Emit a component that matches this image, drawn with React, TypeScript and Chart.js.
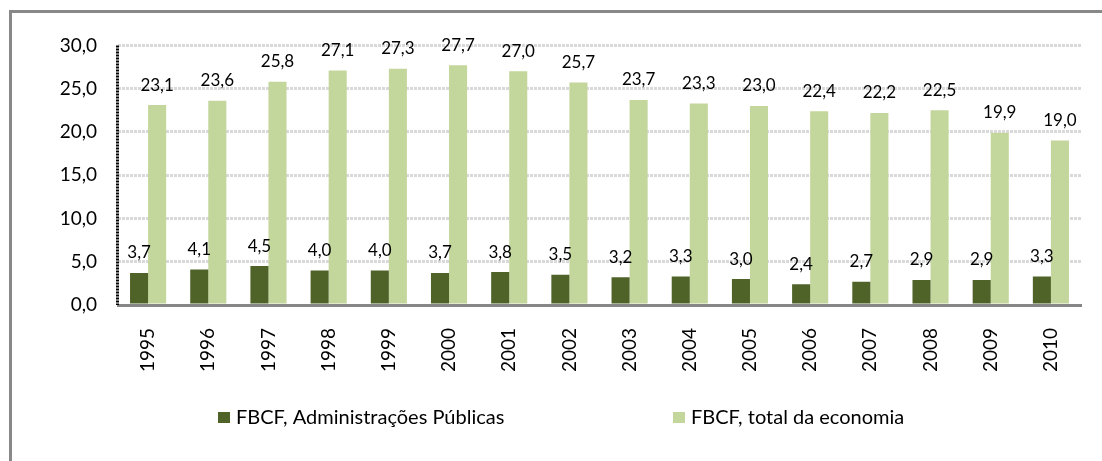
import React, { useEffect, useRef } from 'react';
import { Chart, registerables } from 'chart.js';

Chart.register(...registerables);

const years = ['1995', '1996', '1997', '1998', '1999', '2000', '2001', '2002', '2003', '2004', '2005', '2006', '2007', '2008', '2009', '2010'];
const publicAdmin = [3.7, 4.1, 4.5, 4.0, 4.0, 3.7, 3.8, 3.5, 3.2, 3.3, 3.0, 2.4, 2.7, 2.9, 2.9, 3.3];
const totalEconomy = [23.1, 23.6, 25.8, 27.1, 27.3, 27.7, 27.0, 25.7, 23.7, 23.3, 23.0, 22.4, 22.2, 22.5, 19.9, 19.0];
const seriesNames = ['FBCF, Administrações Públicas', 'FBCF, total da economia'];
const seriesColors = ['#4F6228', '#C3D69B'];
const yMin = 0;
const yMax = 30;
const yStep = 5;

const fmt = (v: number) => v.toFixed(1).replace('.', ',');

const valueLabels = {
  id: 'valueLabels',
  afterDatasetsDraw(chart: any) {
    const ctx = chart.ctx;
    ctx.save();
    ctx.font = '17px Lato';
    ctx.fillStyle = '#000';
    ctx.textAlign = 'center';
    ctx.textBaseline = 'middle';
    chart.data.datasets.forEach((ds: any, i: number) => {
      const meta = chart.getDatasetMeta(i);
      meta.data.forEach((bar: any, j: number) => {
        ctx.fillText(fmt(ds.data[j]), bar.x, bar.y - 20);
      });
    });
    ctx.restore();
  },
};

const axisAndLegend = {
  id: 'axisAndLegend',
  afterDraw(chart: any) {
    const { ctx, chartArea } = chart;
    ctx.save();
    // dotted black value axis
    ctx.strokeStyle = '#000';
    ctx.lineWidth = 3;
    ctx.setLineDash([2, 1]);
    ctx.beginPath();
    ctx.moveTo(chartArea.left - 0.5, chartArea.top);
    ctx.lineTo(chartArea.left - 0.5, chartArea.bottom);
    ctx.stroke();
    ctx.setLineDash([]);
    // legend
    const cy = chartArea.bottom + 113;
    const offsets = [100, 555];
    ctx.font = '20px Lato';
    ctx.textAlign = 'left';
    ctx.textBaseline = 'middle';
    seriesNames.forEach((name, i) => {
      const x = chartArea.left + offsets[i];
      ctx.fillStyle = seriesColors[i];
      ctx.fillRect(x, cy - 6, 12, 11);
      ctx.fillStyle = '#000';
      ctx.fillText(name, x + 18, cy);
    });
    ctx.restore();
  },
};

export default function App() {
  const ref = useRef<HTMLCanvasElement>(null);

  useEffect(() => {
    if (!ref.current) return;
    Chart.defaults.font.family = 'Lato';
    const chart = new Chart(ref.current, {
      type: 'bar',
      data: {
        labels: years,
        datasets: [
          { label: seriesNames[0], data: publicAdmin, backgroundColor: seriesColors[0], categoryPercentage: 0.6, barPercentage: 1 },
          { label: seriesNames[1], data: totalEconomy, backgroundColor: seriesColors[1], categoryPercentage: 0.6, barPercentage: 1 },
        ],
      },
      options: {
        animation: false,
        responsive: false,
        layout: { padding: { left: 0, top: 30, right: 21, bottom: 0 } },
        plugins: { legend: { display: false }, tooltip: { enabled: false } },
        scales: {
          x: {
            grid: { display: false, drawTicks: false },
            border: { display: true, color: '#868686', width: 3 },
            ticks: { minRotation: 90, maxRotation: 90, padding: 23, autoSkip: false, color: '#000', font: { family: 'Lato', size: 19 } },
            afterFit: (s: any) => { s.height = 156; },
          },
          y: {
            min: yMin,
            max: yMax,
            grid: { color: '#d9d9d9', lineWidth: 3, drawTicks: false },
            border: { display: false, dash: [3, 1] },
            ticks: { stepSize: yStep, padding: 21, color: '#000', font: { family: 'Lato', size: 19 }, callback: (v: any) => fmt(Number(v)) },
            afterFit: (s: any) => { s.width = 106; },
          },
        },
      },
      plugins: [valueLabels, axisAndLegend],
    });
    return () => chart.destroy();
  }, []);

  return (
    <div style={{ position: 'fixed', left: 0, top: 0, width: '100vw', height: '100vh', overflow: 'hidden', background: '#fff' }}>
      <div style={{ position: 'absolute', left: 9, top: 10, width: 1300, height: 700, borderTop: '3px solid #888', borderLeft: '3px solid #888' }} />
      <canvas ref={ref} width={1090} height={448} style={{ position: 'absolute', left: 12, top: 13, width: 1090, height: 448 }} />
    </div>
  );
}
